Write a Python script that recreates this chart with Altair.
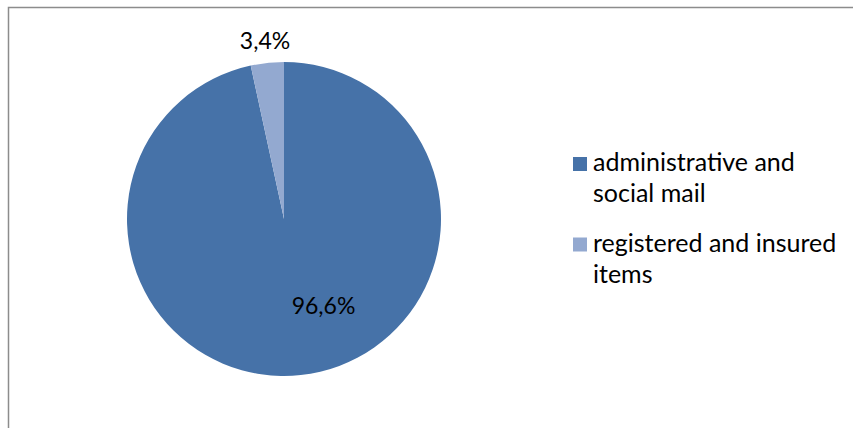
import textwrap
import altair as alt
import pandas as pd

categories = ["administrative and social mail", "registered and insured items"]
shares = [96.6, 3.4]
labels = ["96,6%", "3,4%"]
colors = ["#4672A8", "#93A9D0"]

df = pd.DataFrame({
    "category": categories,
    "share": shares,
    "label": labels,
    "order": list(range(len(categories))),
    "legend_text": ["\n".join(textwrap.wrap(c, 22)) for c in categories],
})

FONT = "Lato"
CX, CY, R = 284, 219, 157

color = alt.Color(
    "category:N",
    scale=alt.Scale(domain=categories, range=colors),
    legend=None,
)

frame = alt.Chart(alt.Data(values=[{}])).mark_rect(
    fill=None, stroke="#8c8c8c", strokeWidth=1.5
).encode(x=alt.value(8.5), y=alt.value(7.5), x2=alt.value(900), y2=alt.value(500))

pie = alt.Chart(df).mark_arc(outerRadius=R, strokeWidth=0).encode(
    theta=alt.Theta("share:Q", stack=True),
    order=alt.Order("order:Q"),
    color=color,
    x=alt.value(CX),
    y=alt.value(CY),
)

big = alt.Chart(df).mark_text(
    font=FONT, fontSize=23, color="#000000", radius=89, dx=30
).encode(
    theta=alt.Theta("share:Q", stack=True),
    order=alt.Order("order:Q"),
    text=alt.condition(alt.datum.order == 0, "label:N", alt.value("")),
    x=alt.value(CX),
    y=alt.value(CY),
)

small = alt.Chart(df).mark_text(
    font=FONT, fontSize=23, color="#000000", radius=178
).encode(
    theta=alt.Theta("share:Q", stack=True),
    order=alt.Order("order:Q"),
    text=alt.condition(alt.datum.order == 1, "label:N", alt.value("")),
    x=alt.value(CX),
    y=alt.value(CY),
)

# legend (drawn as marks so that the two-line labels get the right spacing)
leg_base = alt.Chart(df).transform_calculate(
    sym_y="164 + 80.5 * datum.order",
    txt_y="171 + 80.5 * datum.order",
)

leg_sym = leg_base.mark_square(size=196, opacity=1).encode(
    x=alt.value(580),
    y=alt.Y("sym_y:Q", scale=None),
    color=color,
)

leg_txt = leg_base.mark_text(
    font=FONT, fontSize=25, color="#000000", align="left", baseline="alphabetic",
    lineBreak="\n", lineHeight=31,
).encode(
    x=alt.value(593),
    y=alt.Y("txt_y:Q", scale=None),
    text="legend_text:N",
)

chart = alt.layer(frame, pie, big, small, leg_sym, leg_txt).properties(
    width=853,
    height=428,
    autosize=alt.AutoSizeParams(type="fit", contains="padding"),
    padding=0,
).configure_view(stroke=None)

chart.save("out.html", embed_options={"renderer": "svg", "actions": False})
